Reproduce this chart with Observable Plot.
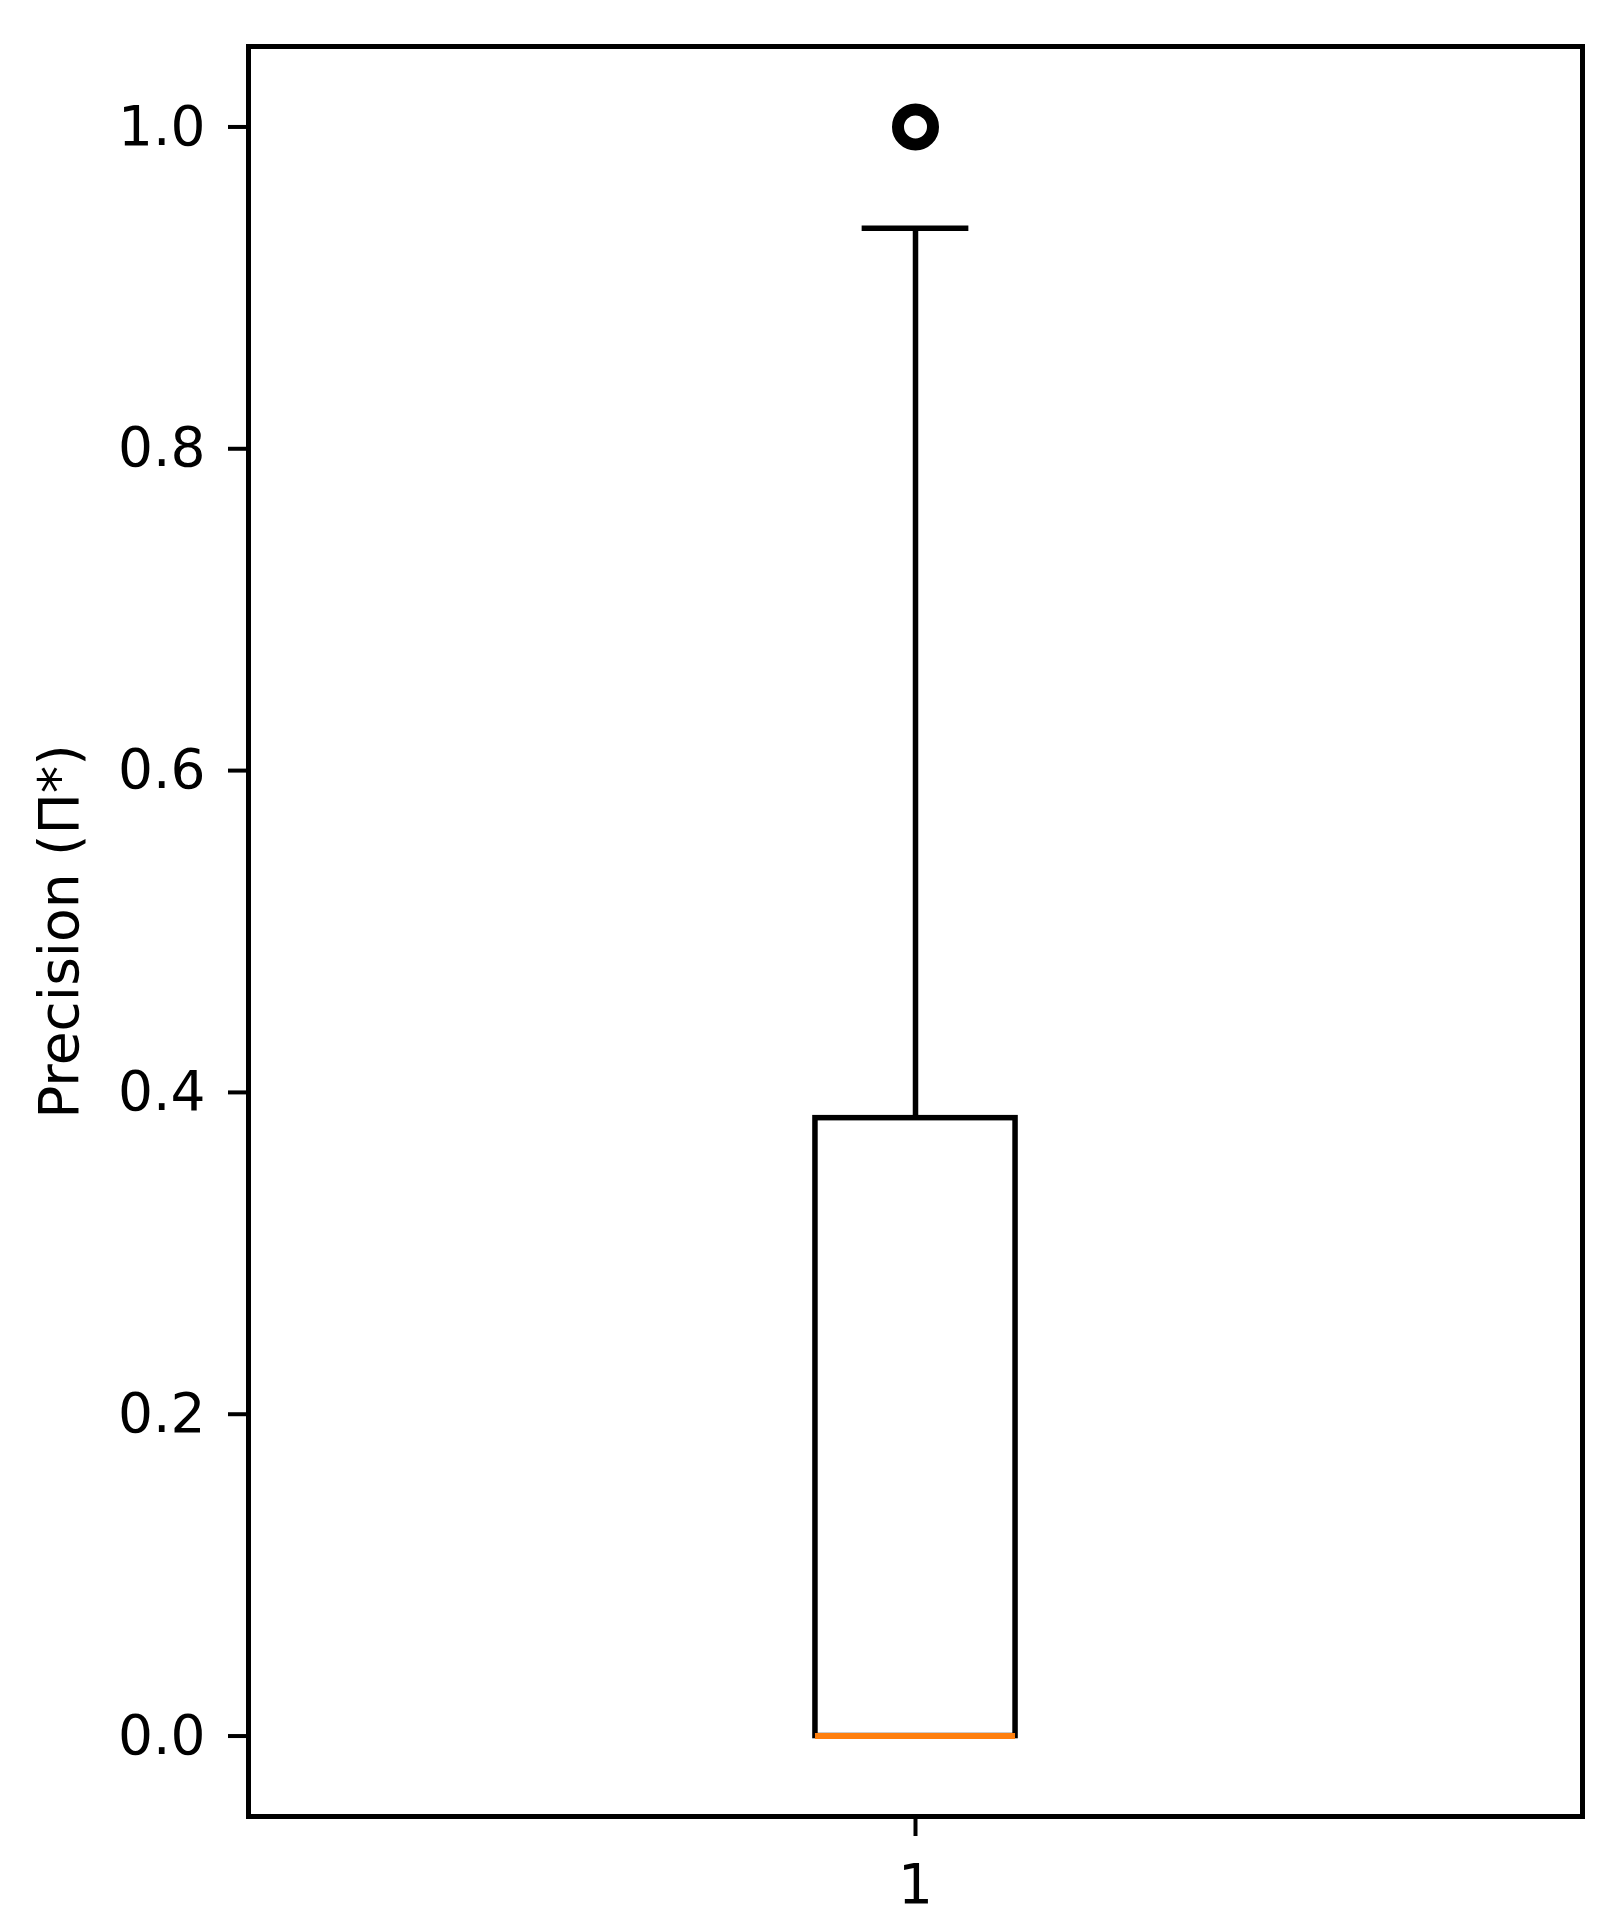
<!DOCTYPE html>
<html>
<head>
<meta charset="utf-8">
<script src="https://cdn.jsdelivr.net/npm/d3@7"></script>
<script src="https://cdn.jsdelivr.net/npm/@observablehq/plot@0.6"></script>
<style>
  html, body { margin: 0; padding: 0; background: #fff; }
</style>
</head>
<body>
<div id="chart"></div>
<script>
// ---- data ----
const categories = ["1"];
const positions = [1];
const q1 = [0.0];
const medians = [0.0];
const q3 = [0.384];
const whiskerLow = [0.0];
const whiskerHigh = [0.937];
const outlierValues = [[1.0]];
const yTicks = [0.0, 0.2, 0.4, 0.6, 0.8, 1.0];
const yLabel = "Precision (Π*)";

const boxes = categories.map((c, i) => ({
  cat: c, pos: positions[i], q1: q1[i], med: medians[i], q3: q3[i],
  lo: whiskerLow[i], hi: whiskerHigh[i]
}));
const outliers = categories.flatMap((c, i) => outlierValues[i].map(v => ({pos: positions[i], v})));

const BOX_HALF = 0.075, CAP_HALF = 0.04;
const LW = 5.5;

const chart = Plot.plot({
  width: 1612,
  height: 1928,
  marginLeft: 248,
  marginRight: 30,
  marginTop: 46,
  marginBottom: 112,
  style: {fontFamily: "DejaVu Sans", fontSize: "55px", background: "#fff", color: "#000"},
  x: {domain: [0.5, 1.5]},
  y: {domain: [-0.05, 1.05]},
  marks: [
    Plot.frame({stroke: "#000", strokeWidth: 5}),
    // whiskers
    Plot.ruleX(boxes, {x: "pos", y1: "q3", y2: "hi", stroke: "#000", strokeWidth: LW}),
    Plot.ruleX(boxes, {x: "pos", y1: "lo", y2: "q1", stroke: "#000", strokeWidth: LW}),
    // caps
    Plot.ruleY(boxes, {y: "hi", x1: d => d.pos - CAP_HALF, x2: d => d.pos + CAP_HALF, stroke: "#000", strokeWidth: LW}),
    Plot.ruleY(boxes, {y: "lo", x1: d => d.pos - CAP_HALF, x2: d => d.pos + CAP_HALF, stroke: "#000", strokeWidth: LW}),
    // box
    Plot.rect(boxes, {x1: d => d.pos - BOX_HALF, x2: d => d.pos + BOX_HALF, y1: "q1", y2: "q3", fill: "none", stroke: "#000", strokeWidth: LW}),
    // median
    Plot.ruleY(boxes, {y: "med", x1: d => d.pos - BOX_HALF, x2: d => d.pos + BOX_HALF, stroke: "#ff7f0e", strokeWidth: 6}),
    // fliers
    Plot.dot(outliers, {x: "pos", y: "v", r: 17.5, fill: "#fff", stroke: "#000", strokeWidth: 12}),
    // axes
    Plot.axisY({ticks: yTicks, tickFormat: d3.format(".1f"), tickSize: 20, tickPadding: 23, strokeWidth: 4,
      label: yLabel, labelAnchor: "center", labelArrow: "none", labelOffset: 210}),
    Plot.axisX({ticks: positions, tickFormat: (d, i) => categories[positions.indexOf(d)], tickSize: 20, tickPadding: 27, strokeWidth: 4, label: null})
  ]
});
document.getElementById("chart").appendChild(chart);
</script>
</body>
</html>
